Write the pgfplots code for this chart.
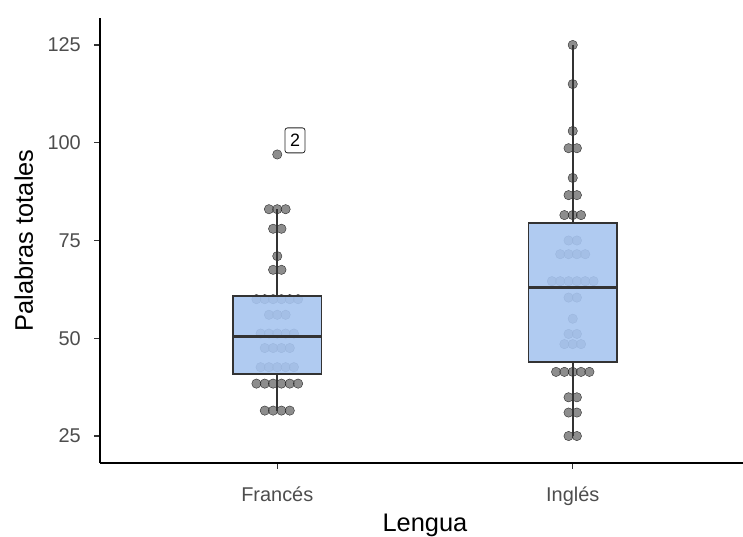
\documentclass[border=0pt]{standalone}
\usepackage{pgfplots}
\pgfplotsset{compat=1.18}
\usepackage{fontspec}
\setmainfont{Liberation Sans}
\definecolor{boxblue}{RGB}{167,197,240}
\definecolor{dotgrey}{RGB}{105,105,105}
\definecolor{tickgrey}{RGB}{77,77,77}
\definecolor{linegrey}{RGB}{51,51,51}
\begin{document}
\begin{tikzpicture}
\begin{axis}[
  set layers,
  scale only axis,
  width=650bp, height=445bp,
  xmin=0.4, xmax=2.6, ymin=18.1, ymax=131.9,
  axis x line=bottom, axis y line=left,
  axis line style={-, black, line width=1.1bp},
  tick align=outside, major tick length=6bp,
  tick style={linegrey, line width=1.1bp},
  xtick={1,2}, xticklabels={Francés, Inglés},
  ytick={25,50,75,100,125},
  /pgf/number format/assume math mode=true,
  ticklabel style={font=\fontsize{20}{24}\selectfont, text=tickgrey},
  xticklabel style={anchor=base, inner sep=0pt, yshift=-32bp},
  yticklabel style={anchor=east, inner sep=0pt, xshift=-13bp},
  xlabel={Lengua}, ylabel={Palabras totales},
  label style={font=\fontsize{25.5}{30}\selectfont, inner sep=0pt},
  xlabel style={at={(axis description cs:0.5,-0.1544)}, anchor=base},
  ylabel style={at={(axis description cs:-0.1031,0.5)}, anchor=base},
  clip=false,
]
\coordinate (sw) at (rel axis cs:0,0);
% dots (Francés)
\addplot[only marks, mark=*, mark size=4.7bp, mark options={draw=none, fill=dotgrey, opacity=0.76}] coordinates {
(1,97)
(0.9718,83) (1,83) (1.0282,83)
(0.9859,78) (1.0141,78)
(1,71)
(0.9859,67.5) (1.0141,67.5)
(0.9295,60) (0.9577,60) (0.9859,60) (1.0141,60) (1.0423,60) (1.0705,60)
(0.9718,56) (1,56) (1.0282,56)
(0.9436,51.2) (0.9718,51.2) (1,51.2) (1.0282,51.2) (1.0564,51.2)
(0.9577,47.5) (0.9859,47.5) (1.0141,47.5) (1.0423,47.5)
(0.9436,42.6) (0.9718,42.6) (1,42.6) (1.0282,42.6) (1.0564,42.6)
(0.9295,38.4) (0.9577,38.4) (0.9859,38.4) (1.0141,38.4) (1.0423,38.4) (1.0705,38.4)
(0.9577,31.5) (0.9859,31.5) (1.0141,31.5) (1.0423,31.5)
};
% dots (Inglés)
\addplot[only marks, mark=*, mark size=4.7bp, mark options={draw=none, fill=dotgrey, opacity=0.76}] coordinates {
(2,125)
(2,115)
(2,103)
(1.9859,98.6) (2.0141,98.6)
(2,91)
(1.9859,86.6) (2.0141,86.6)
(1.9718,81.5) (2,81.5) (2.0282,81.5)
(1.9859,75) (2.0141,75)
(1.9577,71.5) (1.9859,71.5) (2.0141,71.5) (2.0423,71.5)
(1.9295,64.6) (1.9577,64.6) (1.9859,64.6) (2.0141,64.6) (2.0423,64.6) (2.0705,64.6)
(1.9859,60.4) (2.0141,60.4)
(2,55)
(1.9859,51.1) (2.0141,51.1)
(1.9718,48.5) (2,48.5) (2.0282,48.5)
(1.9436,41.4) (1.9718,41.4) (2,41.4) (2.0282,41.4) (2.0564,41.4)
(1.9859,34.9) (2.0141,34.9)
(1.9859,31) (2.0141,31)
(1.9859,25) (2.0141,25)
};
% whiskers
\addplot[on layer=axis foreground, linegrey, line width=1.8bp] coordinates {(1,60.8) (1,83)};
\addplot[on layer=axis foreground, linegrey, line width=1.8bp] coordinates {(1,31.5) (1,40.9)};
\addplot[on layer=axis foreground, linegrey, line width=1.8bp] coordinates {(2,79.5) (2,125)};
\addplot[on layer=axis foreground, linegrey, line width=1.8bp] coordinates {(2,25) (2,43.9)};
% boxes
\addplot[on layer=axis foreground, draw=linegrey, line width=1.5bp, fill=boxblue, fill opacity=0.9]
  coordinates {(0.85,40.9) (1.15,40.9) (1.15,60.8) (0.85,60.8)} -- cycle;
\addplot[on layer=axis foreground, draw=linegrey, line width=1.5bp, fill=boxblue, fill opacity=0.9]
  coordinates {(1.85,43.9) (2.15,43.9) (2.15,79.5) (1.85,79.5)} -- cycle;
% medians
\addplot[on layer=axis foreground, linegrey, line width=2.8bp] coordinates {(0.85,50.4) (1.15,50.4)};
\addplot[on layer=axis foreground, linegrey, line width=2.8bp] coordinates {(1.85,62.9) (2.15,62.9)};
\node[draw=black!85, line width=0.8bp, rounded corners=2.5bp, fill=white, inner sep=0pt,
  minimum width=20bp, minimum height=25bp, font=\fontsize{18}{20}\selectfont]
  at (axis cs:1.06,100.6) {2};
\end{axis}
\pgfresetboundingbox
\path[use as bounding box] ([shift={(-100bp,-74bp)}]sw) rectangle ([shift={(643bp,463bp)}]sw);
\end{tikzpicture}
\end{document}
